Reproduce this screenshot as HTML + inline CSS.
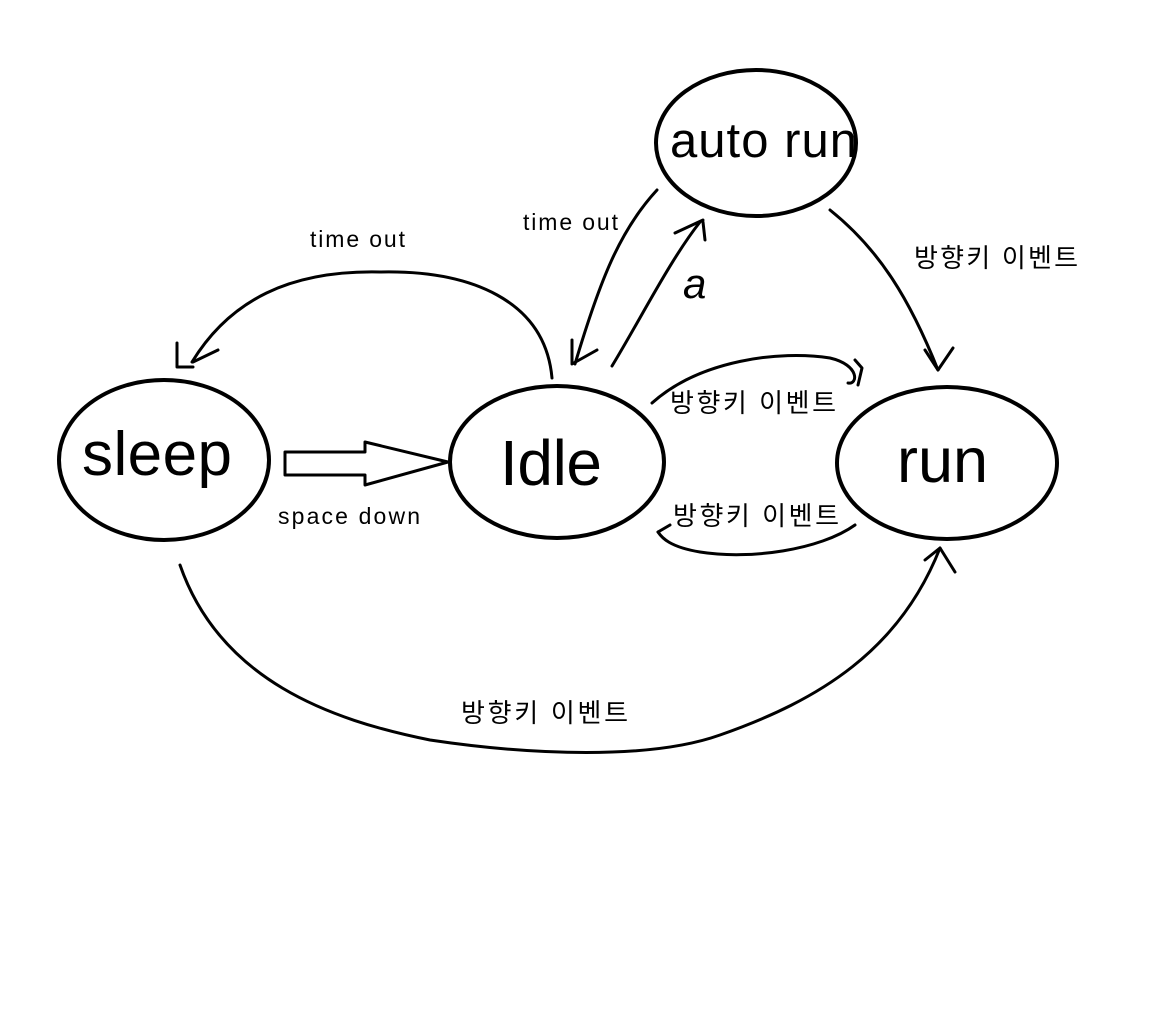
<!DOCTYPE html>
<html><head><meta charset="utf-8"><style>
html,body{margin:0;padding:0;background:#fff;}
svg{display:block}
text{font-family:"Liberation Sans","Noto Sans CJK KR",sans-serif;fill:#000}
</style></head><body>
<svg width="1157" height="1016" viewBox="0 0 1157 1016" xmlns="http://www.w3.org/2000/svg">
<g fill="none" stroke="#000" stroke-width="3" stroke-linecap="round" stroke-linejoin="round">
<ellipse cx="756" cy="143" rx="100" ry="73" stroke-width="4"/>
<ellipse cx="164" cy="460" rx="105" ry="80" stroke-width="4"/>
<ellipse cx="557" cy="462" rx="107" ry="76" stroke-width="4"/>
<ellipse cx="947" cy="463" rx="110" ry="76" stroke-width="4"/>
<path d="M552,378 C545,300 470,270 380,272 C290,270 230,300 192,362"/>
<path d="M177,343 L177,367 L193,367 M193,362 L218,350"/>
<path d="M657,190 C620,230 600,280 575,364"/>
<path d="M572,340 L572,364 L597,350"/>
<path d="M612,366 C640,320 670,260 700,222"/>
<path d="M703,220 L675,233 M703,222 L705,240"/>
<path d="M830,210 C880,250 910,300 938,370"/>
<path d="M925,350 L938,370 L953,348"/>
<path d="M652,403 C700,360 780,350 830,358 C860,365 858,385 848,383"/>
<path d="M855,360 L862,368 L858,385"/>
<path d="M855,525 C820,550 750,560 700,552 C670,547 662,538 658,532"/>
<path d="M658,532 L670,525"/>
<path d="M180,565 C220,680 330,720 430,740 C530,755 650,760 720,735 C820,700 900,650 940,548"/>
<path d="M925,560 L940,548 L955,572"/>
<polygon points="285,452 365,452 365,442 448,462 365,485 365,475 285,475"/>
</g>
<text x="670" y="157" font-size="49" textLength="187">auto run</text>
<text x="82" y="475" font-size="62" textLength="150">sleep</text>
<text x="500" y="485" font-size="64" textLength="102">Idle</text>
<text x="897" y="482" font-size="63" textLength="91">run</text>
<text x="310" y="247" font-size="23" textLength="95">time out</text>
<text x="523" y="230" font-size="23" textLength="95">time out</text>
<text x="278" y="524" font-size="23" textLength="142">space down</text>
<text x="914" y="267" font-size="26" textLength="164">방향키 이벤트</text>
<text x="670" y="412" font-size="26" textLength="166">방향키 이벤트</text>
<text x="673" y="525" font-size="26" textLength="166">방향키 이벤트</text>
<text x="461" y="722" font-size="26" textLength="167">방향키 이벤트</text>
<text x="683" y="298" font-size="42" font-style="italic" font-family="Liberation Serif, serif">a</text>
</svg>
</body></html>
